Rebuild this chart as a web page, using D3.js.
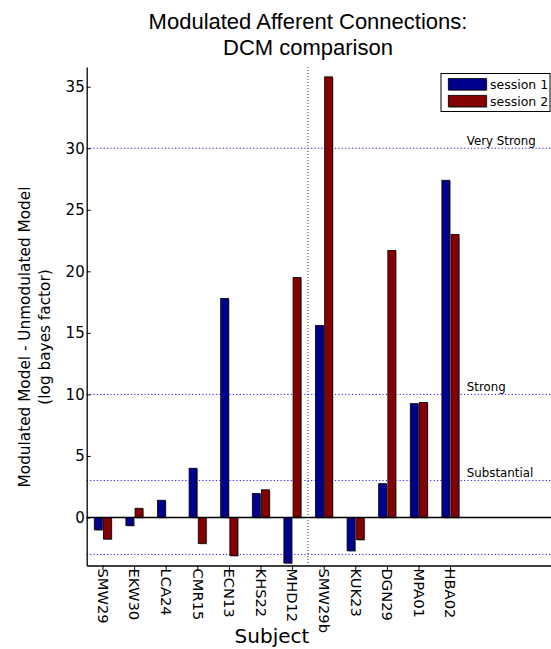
<!DOCTYPE html>
<html>
<head>
<meta charset="utf-8">
<script src="https://cdn.jsdelivr.net/npm/d3@7/dist/d3.min.js"></script>
<style>
  html, body { margin: 0; padding: 0; background: #fff; }
  svg { display: block; }
  text { font-family: "DejaVu Sans", sans-serif; fill: #000; }
</style>
</head>
<body>
<div id="chart"></div>
<script>
// Log Bayes factors (modulated minus unmodulated model) per subject
const subjects = ["SMW29", "EKW30", "LCA24", "CMR15", "ECN13", "KHS22",
                  "MHD12", "SMW29b", "KUK23", "DGN29", "MPA01", "HBA02"];
const session1 = [-1.0, -0.65, 1.4, 4.0, 17.8, 1.95, -3.7, 15.6, -2.7, 2.75, 9.25, 27.4];
const session2 = [-1.75, 0.75, 0.0, -2.1, -3.1, 2.25, 19.5, 35.8, -1.8, 21.7, 9.35, 23.0];
const seriesNames = ["session 1", "session 2"];

// Evidence thresholds drawn as dotted reference lines
const thresholds = [-3, 3, 10, 30];
const thresholdLabels = [
  { value: 3, label: "Substantial" },
  { value: 10, label: "Strong" },
  { value: 30, label: "Very Strong" }
];
const yTicks = [0, 5, 10, 15, 20, 25, 30, 35];
const sessionSplit = 6.5;   // boundary between the two subject groups

const W = 551, H = 649;
const plotLeft = 86.7, plotTop = 67, plotBottom = 565.5;
const step = 31.6;

const svg = d3.select("#chart").append("svg")
  .attr("width", W).attr("height", H);
svg.append("rect").attr("width", W).attr("height", H).attr("fill", "#fff");

const x = d3.scaleLinear().domain([-0.5, 14.5]).range([plotLeft, plotLeft + 15 * step]);
const y = d3.scaleLinear().domain([-3.9, 36.6]).range([plotBottom, plotTop]);

const colors = ["#00008f", "#850000"];
const barW = 0.25;
const offsets = [-0.26, 0.03];

// Reference lines
svg.append("g").selectAll("line").data(thresholds).join("line")
  .attr("x1", plotLeft).attr("x2", W)
  .attr("y1", d => y(d)).attr("y2", d => y(d))
  .attr("stroke", "#1a1aff").attr("stroke-width", 1)
  .attr("stroke-dasharray", "1.2,2.2");

svg.append("line")
  .attr("x1", x(sessionSplit)).attr("x2", x(sessionSplit))
  .attr("y1", plotTop).attr("y2", plotBottom)
  .attr("stroke", "#333").attr("stroke-width", 1)
  .attr("stroke-dasharray", "1,2");

svg.append("g").selectAll("text").data(thresholdLabels).join("text")
  .attr("x", x(11.53)).attr("y", d => y(d.value) - 3.5)
  .style("font-size", "11.8px")
  .text(d => d.label);

// Bars with a soft grey drop shadow
const series = [session1, session2];
series.forEach((vals, s) => {
  const g = svg.append("g");
  const rows = vals.map((v, i) => ({ i, v }));
  g.selectAll("rect.shadow").data(rows).join("rect")
    .attr("class", "shadow")
    .attr("x", d => x(d.i + offsets[s]) + 1)
    .attr("y", d => Math.min(y(d.v), y(0)) + 1)
    .attr("width", x(barW) - x(0))
    .attr("height", d => Math.abs(y(d.v) - y(0)))
    .attr("fill", "#9a9a9a");
  g.selectAll("rect.bar").data(rows).join("rect")
    .attr("class", "bar")
    .attr("x", d => x(d.i + offsets[s]))
    .attr("y", d => Math.min(y(d.v), y(0)))
    .attr("width", x(barW) - x(0))
    .attr("height", d => Math.abs(y(d.v) - y(0)))
    .attr("fill", colors[s])
    .attr("stroke", "#000").attr("stroke-width", 0.8);
});

// Zero line
svg.append("line")
  .attr("x1", plotLeft).attr("x2", W)
  .attr("y1", y(0)).attr("y2", y(0))
  .attr("stroke", "#000").attr("stroke-width", 1.3);

// Y axis (ticks pointing inward)
const yAxis = svg.append("g")
  .attr("transform", `translate(${plotLeft},0)`)
  .call(d3.axisLeft(y).tickValues(yTicks).tickSizeInner(-4).tickSizeOuter(0).tickPadding(2));
yAxis.select(".domain").attr("stroke-width", 1.3);
yAxis.selectAll("text").style("font-size", "15px").attr("font-family", null);

// X axis with rotated subject labels
const xAxis = svg.append("g")
  .attr("transform", `translate(0,${plotBottom})`)
  .call(d3.axisBottom(x).tickValues(d3.range(subjects.length))
    .tickFormat(i => subjects[i]).tickSizeInner(5).tickSizeOuter(0));
xAxis.select(".domain").attr("stroke-width", 1.3);
xAxis.selectAll("text")
  .attr("x", 3).attr("y", 0).attr("dy", "0.36em")
  .attr("transform", "rotate(90)")
  .style("text-anchor", "start")
  .style("font-size", "14.7px")
  .attr("font-family", null);

// Axis titles
svg.append("text")
  .attr("x", 272).attr("y", 643)
  .attr("text-anchor", "middle")
  .style("font-size", "20px")
  .text("Subject");

const yl = svg.append("text")
  .attr("transform", "translate(30,337) rotate(-90)")
  .attr("text-anchor", "middle")
  .style("font-size", "15.3px");
yl.append("tspan").attr("x", 0).attr("y", 0).text("Modulated Model - Unmodulated Model");
yl.append("tspan").attr("x", 0).attr("y", 20).text("(log bayes factor)");

// Chart title
const title = svg.append("text")
  .attr("text-anchor", "middle")
  .style("font-family", "'Liberation Sans', Arial, sans-serif")
  .style("font-size", "22px");
title.append("tspan").attr("x", 308).attr("y", 29).text("Modulated Afferent Connections:");
title.append("tspan").attr("x", 308).attr("y", 55).text("DCM comparison");

// Legend
const lg = svg.append("g");
lg.append("rect")
  .attr("x", 441).attr("y", 73.5).attr("width", 109).attr("height", 38)
  .attr("fill", "#fff").attr("stroke", "#000").attr("stroke-width", 1);
seriesNames.forEach((name, s) => {
  const yy = 78.5 + s * 16.8;
  lg.append("rect").attr("x", 449.3).attr("y", yy + 1).attr("width", 38).attr("height", 11.5).attr("fill", "#9a9a9a");
  lg.append("rect").attr("x", 448.3).attr("y", yy).attr("width", 38).attr("height", 11.5)
    .attr("fill", colors[s]).attr("stroke", "#000").attr("stroke-width", 0.8);
  lg.append("text").attr("x", 490).attr("y", yy + 10.3)
    .style("font-size", "12.5px").text(name);
});
</script>
</body>
</html>
